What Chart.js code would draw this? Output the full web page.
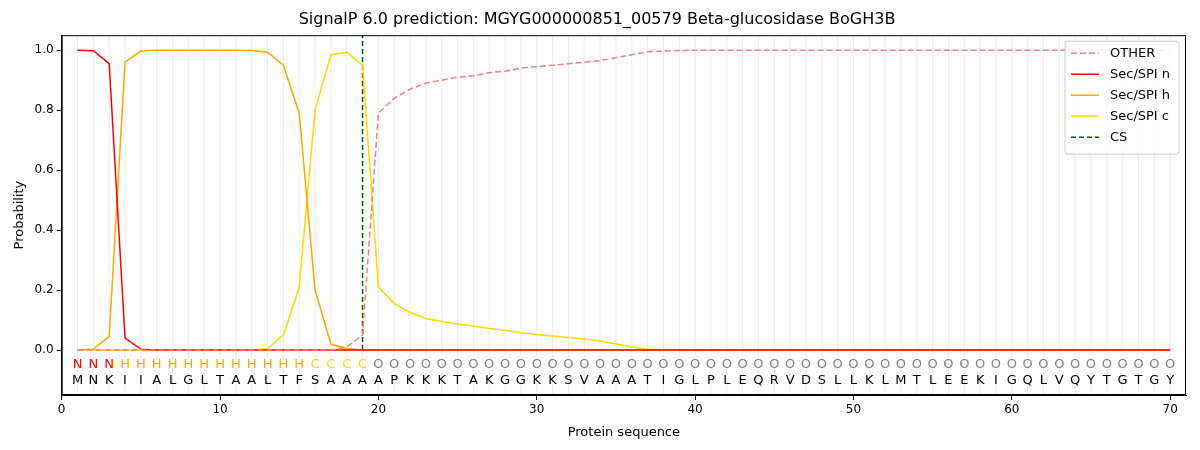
<!DOCTYPE html>
<html>
<head>
<meta charset="utf-8">
<script src="https://cdn.jsdelivr.net/npm/chart.js@4"></script>
<style>
  body { margin: 0; background: #fff; }
  #wrap { width: 1200px; height: 450px; }
</style>
</head>
<body>
<div id="wrap"><canvas id="myChart"></canvas></div>
<script>
const sequence = 'MNKIIALGLTAALTFSAAAAPKKKTAKGGKKSVAAATIGLPLEQRVDSLLKLMTLEEKIGQLVQYTGTGY'.split('');
const regions = 'NNNHHHHHHHHHHHHCCCCOOOOOOOOOOOOOOOOOOOOOOOOOOOOOOOOOOOOOOOOOOOOOOOOOOO'.split('');
const positions = sequence.map((_, i) => i + 1);

const other = [0,0,0,0,0,0,0,0,0,0, 0,0,0,0,0,0,0,0.01,0.05,0.79,
  0.84,0.87,0.89,0.90,0.91,0.915,0.925,0.93,0.94,0.945,
  0.95,0.955,0.96,0.965,0.975,0.985,0.995,0.997,0.999,1,
  1,1,1,1,1,1,1,1,1,1, 1,1,1,1,1,1,1,1,1,1, 1,1,1,1,1,1,1,1,1,1];
const secN = [1.0,0.998,0.955,0.04,0.003].concat(new Array(65).fill(0));
const secH = [0,0.003,0.045,0.96,0.997,1,1,1,1,1, 1,0.999,0.993,0.95,0.79,0.2,0.02,0.005,0,0].concat(new Array(50).fill(0));
const secC = [0,0,0,0,0,0,0,0,0,0, 0,0,0.005,0.05,0.21,0.80,0.985,0.993,0.95,0.21,
  0.155,0.125,0.105,0.095,0.087,0.08,0.072,0.065,0.058,0.052,
  0.047,0.042,0.037,0.03,0.02,0.01,0.003,0.001,0,0].concat(new Array(30).fill(0));
const csPos = 19;
const xTicks = [0, 10, 20, 30, 40, 50, 60, 70];
const yTicks = [0, 0.2, 0.4, 0.6, 0.8, 1.0];

const regionColors = { N: 'red', H: 'orange', C: 'gold', O: 'gray' };

const pts = arr => arr.map((v, i) => ({ x: positions[i], y: v }));

// guide lines, letters, frame and legend
const seqPlugin = {
  id: 'seqLetters',
  beforeDatasetsDraw(chart) {
    const { ctx, scales: { x }, chartArea } = chart;
    ctx.save();
    ctx.strokeStyle = 'rgba(200,200,200,0.35)';
    ctx.lineWidth = 1;
    positions.forEach(p => {
      const px = x.getPixelForValue(p);
      ctx.beginPath();
      ctx.moveTo(px, chartArea.top);
      ctx.lineTo(px, chartArea.bottom);
      ctx.stroke();
    });
    ctx.restore();
  },
  afterDatasetsDraw(chart) {
    const { ctx, scales: { x, y }, chartArea: a } = chart;
    ctx.save();
    ctx.font = '13px "DejaVu Sans"';
    ctx.textAlign = 'center';
    ctx.textBaseline = 'middle';
    positions.forEach((p, i) => {
      const px = x.getPixelForValue(p);
      ctx.fillStyle = regionColors[regions[i]];
      ctx.fillText(regions[i], px, y.getPixelForValue(-0.048));
      ctx.fillStyle = '#000';
      ctx.fillText(sequence[i], px, y.getPixelForValue(-0.102));
    });
    // frame
    ctx.strokeStyle = '#000';
    ctx.lineWidth = 1;
    ctx.strokeRect(a.left + 0.5, a.top + 0.5, a.right - a.left - 1, a.bottom - a.top - 1);
    // legend
    const items = chart.data.datasets;
    const w = 114, rowH = 21, h = items.length * rowH + 8;
    const lx = a.right - w - 7, ly = a.top + 6;
    ctx.fillStyle = 'rgba(255,255,255,0.85)';
    ctx.strokeStyle = '#ccc';
    ctx.beginPath();
    ctx.roundRect(lx, ly, w, h, 3);
    ctx.fill();
    ctx.stroke();
    ctx.textAlign = 'left';
    items.forEach((d, i) => {
      const cy = ly + 12 + i * rowH;
      ctx.strokeStyle = d.borderColor;
      ctx.lineWidth = 1.5;
      ctx.setLineDash(d.borderDash || []);
      ctx.beginPath();
      ctx.moveTo(lx + 6, cy);
      ctx.lineTo(lx + 34, cy);
      ctx.stroke();
      ctx.setLineDash([]);
      ctx.fillStyle = '#000';
      ctx.fillText(d.label, lx + 45, cy);
    });
    ctx.restore();
  }
};

new Chart(document.getElementById('myChart'), {
  type: 'line',
  data: {
    datasets: [
      { label: 'OTHER', data: pts(other), borderColor: 'lightcoral', borderDash: [6, 3], borderWidth: 1.5, pointRadius: 0, fill: false },
      { label: 'Sec/SPI n', data: pts(secN), borderColor: 'red', borderWidth: 1.5, pointRadius: 0, fill: false },
      { label: 'Sec/SPI h', data: pts(secH), borderColor: 'orange', borderWidth: 1.5, pointRadius: 0, fill: false },
      { label: 'Sec/SPI c', data: pts(secC), borderColor: 'gold', borderWidth: 1.5, pointRadius: 0, fill: false },
      { label: 'CS', data: [{ x: csPos, y: 0 }, { x: csPos, y: 1.05 }], borderColor: 'darkgreen', borderDash: [5, 3], borderWidth: 1.5, pointRadius: 0, fill: false }
    ]
  },
  options: {
    responsive: true,
    maintainAspectRatio: false,
    animation: false,
    layout: { padding: { left: 8, right: 14, top: 6, bottom: 6 } },
    plugins: {
      title: { display: true, text: 'SignalP 6.0 prediction: MGYG000000851_00579 Beta-glucosidase BoGH3B', color: '#000', font: { family: 'DejaVu Sans', size: 16, weight: 'normal' }, padding: { top: 4, bottom: 6 } },
      legend: { display: false },
      tooltip: { enabled: false }
    },
    scales: {
      x: {
        type: 'linear', min: 0, max: 71,
        title: { display: true, text: 'Protein sequence', color: '#000', font: { family: 'DejaVu Sans', size: 13 } },
        ticks: { color: '#000', font: { family: 'DejaVu Sans', size: 12 }, autoSkip: false },
        afterBuildTicks: axis => { axis.ticks = xTicks.map(v => ({ value: v })); },
        grid: { display: true, drawOnChartArea: false, drawTicks: true, tickLength: 5, color: '#000' },
        border: { color: '#000' }
      },
      y: {
        min: -0.15, max: 1.05,
        title: { display: true, text: 'Probability', color: '#000', font: { family: 'DejaVu Sans', size: 13 } },
        ticks: { color: '#000', font: { family: 'DejaVu Sans', size: 12 }, callback: v => v.toFixed(1) },
        afterBuildTicks: axis => { axis.ticks = yTicks.map(v => ({ value: v })); },
        grid: { display: true, drawOnChartArea: false, drawTicks: true, tickLength: 5, color: '#000' },
        border: { color: '#000' }
      }
    }
  },
  plugins: [seqPlugin]
});
</script>
</body>
</html>
